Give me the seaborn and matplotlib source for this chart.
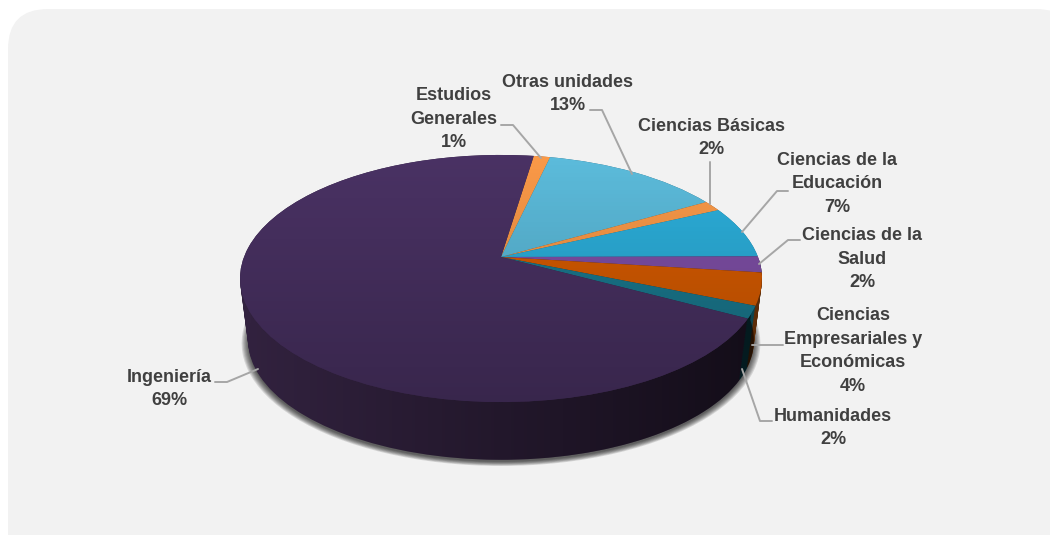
import numpy as np
import seaborn as sns
import matplotlib.pyplot as plt
from matplotlib.patches import FancyBboxPatch
from matplotlib.path import Path
from matplotlib.transforms import Transform

# Data, clockwise from the top of the pie
categories = ['Estudios\nGenerales', 'Otras unidades', 'Ciencias Básicas', 'Ciencias de la\nEducación',
              'Ciencias de la\nSalud', 'Ciencias\nEmpresariales y\nEconómicas', 'Humanidades', 'Ingeniería']
shares = [1.2, 13.1, 1.4, 6.8, 2.1, 4.2, 1.6, 69.5]
pct_labels = ['1%', '13%', '2%', '7%', '2%', '4%', '2%', '69%']

top_colors = ['#fb9a48', '#5cbcdc', '#fb9a48', '#2cb0dc', '#8050a8', '#d95c00', '#1a7a90', '#4a3264']
side_colors = ['#8a5020', '#2a6a80', '#8a5020', '#186a88', '#3a2450', '#5c2c08', '#0c4450', '#32223f']

# label centre and leader line, in pixels
label_pos = [(454, 119), (568, 94), (711, 138), (837, 184), (862, 259), (853, 351), (833, 428), (169, 389)]
leaders = [[(501, 125), (513, 125), (541, 158)],
           [(590, 110), (602, 110), (632, 174)],
           [(710, 162), (710, 204)],
           [(788, 191), (777, 191), (742, 232)],
           [(800, 240), (788, 240), (759, 264)],
           [(783, 345), (752, 345)],
           [(772, 421), (760, 421), (742, 369)],
           [(215, 382), (227, 382), (258, 369)]]

start_angle = 81.4
cx, cy = 501, 257
depth = 63


# Tilted disc: the unit circle seen in perspective, output in pixels
class Tilt(Transform):
    input_dims = 2
    output_dims = 2

    def __init__(self, shift=0.0):
        super().__init__()
        self.shift = shift

    def transform_non_affine(self, values):
        values = np.asarray(values)
        w = 1 + 0.174 * values[:, 1]
        return np.column_stack([cx + 257 * values[:, 0] / w,
                                cy + self.shift - 119.8 * values[:, 1] / w])


def draw_pie(ax, values, colors, radius, shift, zorder, alpha=None):
    wedges, _ = ax.pie(values, colors=colors, radius=radius, startangle=start_angle,
                       counterclock=False, wedgeprops={'linewidth': 0, 'alpha': alpha})
    for w in wedges:
        w.set_transform(Tilt(shift) + ax.transData)
        w.set_zorder(zorder)
        w.set_clip_on(False)


def disc_outline(shift, radius=1.0):
    t = np.linspace(0, 2 * np.pi, 361)
    return Tilt(shift).transform_non_affine(np.column_stack([radius * np.cos(t), radius * np.sin(t)]))


sns.set_theme(style='white')
plt.rcParams['font.family'] = ['Liberation Sans', 'DejaVu Sans']

fig = plt.figure(figsize=(10.5, 5.35), dpi=100, facecolor='white')
ax = fig.add_axes([0, 0, 1, 1])

# soft shadow under the pie
for i in range(7):
    draw_pie(ax, [1], ['black'], 0.994 - i * 0.004, depth + 2, 2 + i * 0.01, alpha=0.12)

# side wall, stacked discs
n_layers = 34
for i in range(n_layers):
    f = 1 - i / (n_layers - 1)
    draw_pie(ax, shares, side_colors, 1 - 0.03 * f, depth * f, 3 + i * 0.01)

ax.set_aspect('auto')
ax.axis('off')

# panel behind everything
ax.add_patch(FancyBboxPatch((8, 9), 1068, 600, boxstyle='round,pad=0,rounding_size=40',
                            linewidth=0, facecolor='#f2f2f2', zorder=0))

# the side gets darker to the right
shade = np.zeros((2, 256, 4))
shade[:, :, 3] = np.linspace(0.0, 0.62, 256)
im = ax.imshow(shade, extent=(240, 762, 475, 260), aspect='auto', zorder=3.8, interpolation='bilinear')
low = disc_outline(depth, 0.97)
im.set_clip_path(Path(np.vstack([disc_outline(0)[180:361], low[::-1][:181]])), ax.transData)

# top face with soft vertical shading
draw_pie(ax, shares, top_colors, 1.0, 0, 4)
fade = np.zeros((256, 2, 4))
fade[:, :, 3] = np.linspace(0.0, 0.24, 256)[:, None]
im2 = ax.imshow(fade, extent=(235, 767, 405, 152), aspect='auto', zorder=4.5, interpolation='bilinear')
im2.set_clip_path(Path(disc_outline(0)), ax.transData)

# labels and leader lines
for name, pct, (x, y), line in zip(categories, pct_labels, label_pos, leaders):
    ax.text(x, y, name + '\n' + pct, ha='center', va='center', fontsize=13, fontweight='bold',
            color='#404040', linespacing=1.53, zorder=6)
    xs, ys = zip(*line)
    sns.lineplot(x=list(xs), y=list(ys), ax=ax, color='#a6a6a6', linewidth=1.4, sort=False,
                 estimator=None, zorder=5)

ax.set_aspect('auto')
ax.set_xlim(0, 1050)
ax.set_ylim(535, 0)

fig.savefig('out.png', dpi=100)
